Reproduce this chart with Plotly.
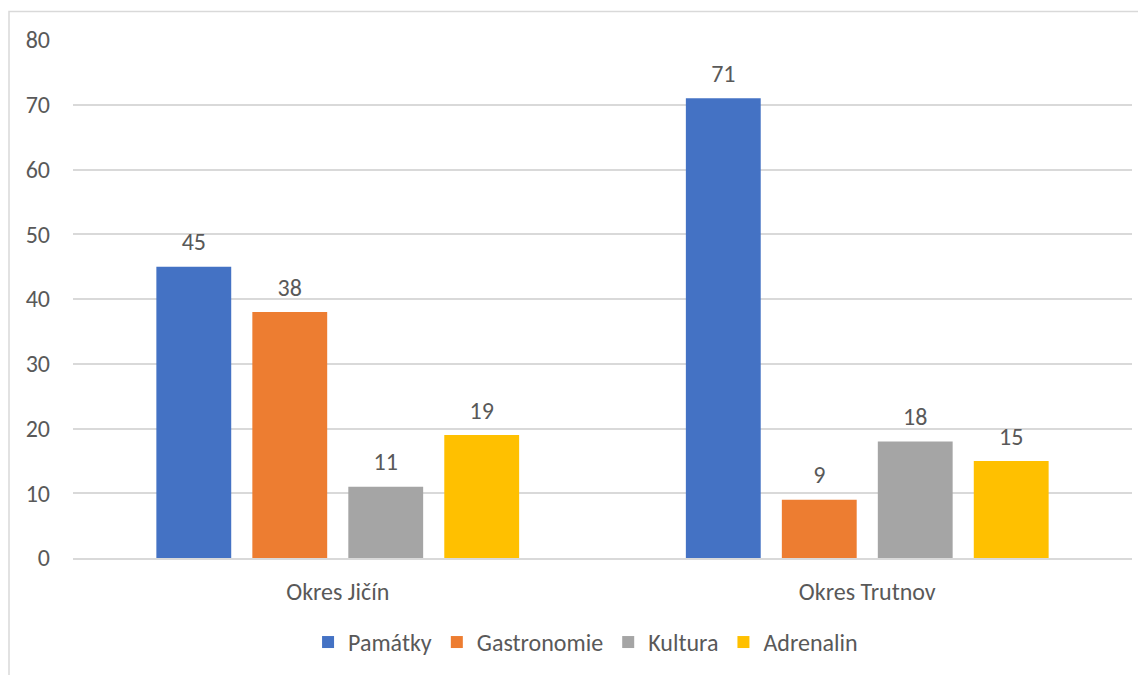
import plotly.graph_objects as go

categories = ["Okres Jičín", "Okres Trutnov"]
series_names = ["Památky", "Gastronomie", "Kultura", "Adrenalin"]
pamatky = [45, 71]
gastronomie = [38, 9]
kultura = [11, 18]
adrenalin = [19, 15]
colors = ["#4472C4", "#ED7D31", "#A5A5A5", "#FFC000"]
y_ticks = [0, 10, 20, 30, 40, 50, 60, 70, 80]

font_family = "Carlito, Calibri, 'Open Sans', sans-serif"
text_color = "#595959"
fs = 24

fig = go.Figure()
all_vals = [pamatky, gastronomie, kultura, adrenalin]
for i, (name, vals, col) in enumerate(zip(series_names, all_vals, colors)):
    fig.add_trace(go.Bar(
        x=categories, y=vals, name=name, marker_color=col,
        marker_line_width=0, offsetgroup=str(i),
    ))
for i, (name, vals) in enumerate(zip(series_names, all_vals)):
    fig.add_trace(go.Scatter(
        x=categories, y=vals, mode="markers+text", offsetgroup=str(i),
        marker=dict(size=15, opacity=0), text=[str(v) for v in vals],
        textposition="top center", showlegend=False, hoverinfo="skip",
        textfont=dict(size=fs, color=text_color, family=font_family),
        cliponaxis=False,
    ))

fig.update_layout(
    width=1146, height=675,
    barmode="group", bargap=0.275, bargroupgap=0.22,
    scattermode="group", scattergap=0.275,
    plot_bgcolor="white", paper_bgcolor="white",
    margin=dict(l=65, r=22, t=31.5, b=124.5),
    font=dict(family=font_family, size=fs, color=text_color),
    legend=dict(orientation="h", x=0.484, xanchor="center", y=-0.163, yanchor="middle",
                font=dict(size=fs, color=text_color), itemwidth=30,
                traceorder="normal"),
    shapes=[dict(type="rect", xref="paper", yref="paper",
                 x0=(1 - 65) / 1059, x1=1.2, y0=-2, y1=(550.5 - 3) / 519,
                 line=dict(color="#D9D9D9", width=1.5), layer="below")],
)
fig.update_yaxes(range=[0, 80], tickvals=y_ticks, showgrid=True, gridcolor="#D9D9D9",
                 gridwidth=1.5, zeroline=False, showline=False, ticks="",
                 ticklabelstandoff=22, tickfont=dict(size=fs, color=text_color))
fig.update_xaxes(showline=True, linecolor="#D9D9D9", linewidth=1.5, ticks="",
                 ticklabelstandoff=11, tickfont=dict(size=fs, color=text_color))

fig.write_html("out.html")
